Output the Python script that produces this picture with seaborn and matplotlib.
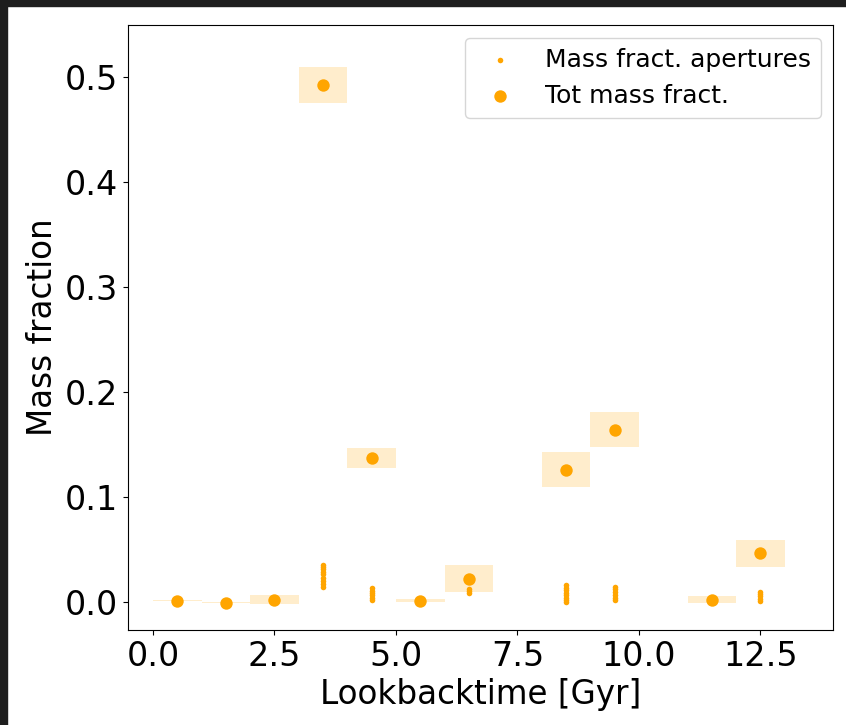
import numpy as np
import pandas as pd
import matplotlib
matplotlib.use("Agg")
import matplotlib.pyplot as plt
import seaborn as sns
from matplotlib.patches import Rectangle
from matplotlib.collections import PatchCollection

# total mass fraction per 1 Gyr bin (bin centres)
tot_time = [0.5, 1.5, 2.5, 3.5, 4.5, 5.5, 6.5, 8.5, 9.5, 11.5, 12.5]
tot_frac = [0.001, -0.001, 0.002, 0.493, 0.137, 0.001, 0.022, 0.126, 0.164, 0.002, 0.046]
tot_err = [0.0006, 0.0006, 0.004, 0.017, 0.0095, 0.0015, 0.013, 0.017, 0.0165, 0.003, 0.0125]

# mass fraction of the single apertures
ap_time = [3.5] * 9 + [4.5] * 6 + [6.5] * 3 + [8.5] * 8 + [9.5] * 6 + [12.5] * 5
ap_frac = [0.014, 0.017, 0.020, 0.023, 0.026, 0.028, 0.031, 0.033, 0.035,
           0.002, 0.004, 0.006, 0.008, 0.010, 0.013,
           0.008, 0.010, 0.012,
           0.000, 0.002, 0.004, 0.006, 0.008, 0.011, 0.013, 0.016,
           0.002, 0.004, 0.006, 0.009, 0.012, 0.014,
           0.001, 0.003, 0.005, 0.007, 0.009]

col = 'orange'

fig = plt.figure(figsize=(8.46, 7.25), dpi=100)
ax = fig.add_axes([0.151, 0.131, 0.834, 0.8345])

# error boxes (bin width 1 Gyr)
boxes = [Rectangle((t - 0.5, f - e), 1.0, 2 * e) for t, f, e in zip(tot_time, tot_frac, tot_err)]
ax.add_collection(PatchCollection(boxes, facecolor=col, alpha=0.2, edgecolor='none'))

df_ap = pd.DataFrame({'time': ap_time, 'frac': ap_frac})
df_tot = pd.DataFrame({'time': tot_time, 'frac': tot_frac})

sns.scatterplot(data=df_ap, x='time', y='frac', color=col, s=16, linewidth=0,
                label='Mass fract. apertures', ax=ax, zorder=3)
sns.scatterplot(data=df_tot, x='time', y='frac', color=col, s=80, linewidth=0,
                label='Tot mass fract.', ax=ax, zorder=4)

ax.set_xlim(-0.52, 14.0)
ax.set_ylim(-0.027, 0.55)
ax.set_xticks([0.0, 2.5, 5.0, 7.5, 10.0, 12.5])
ax.set_yticks([0.0, 0.1, 0.2, 0.3, 0.4, 0.5])
ax.tick_params(labelsize=24)
ax.set_xlabel('Lookbacktime [Gyr]', fontsize=23.5)
ax.set_ylabel('Mass fraction', fontsize=23.5)
ax.legend(loc='upper right', fontsize=18)

# dark screenshot frame
fig.patches.append(Rectangle((0, 0.9917), 1, 0.01, transform=fig.transFigure, color='#1e1e1e', zorder=10))
fig.patches.append(Rectangle((0, 0), 0.0083, 1, transform=fig.transFigure, color='#1e1e1e', zorder=10))

fig.savefig('out.png', dpi=100)
